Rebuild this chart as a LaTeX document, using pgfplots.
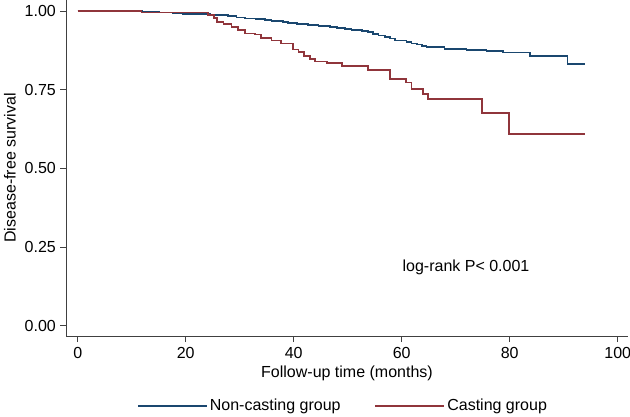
\documentclass[border=0pt]{standalone}
\usepackage{fontspec}
\setmainfont{Liberation Sans}
\usepackage{pgfplots}
\pgfplotsset{compat=1.18}
\definecolor{stnavy}{RGB}{26,71,111}
\definecolor{stmaroon}{RGB}{144,53,59}
\begin{document}
\fontsize{16bp}{19bp}\selectfont
\begin{tikzpicture}
\useasboundingbox (0,0) rectangle (630bp,417bp);
\begin{axis}[
  at={(66bp,81bp)}, anchor=south west,
  scale only axis, width=562bp, height=336bp,
  xmin=-2.17, xmax=101.9, ymin=-0.032, ymax=1.035,
  axis x line*=bottom, axis y line*=left,
  axis line style={black!75, line width=0.9bp, -},
  tick align=outside, major tick length=6bp,
  every tick/.style={black!75, line width=0.9bp},
  xtick={0,20,...,100}, ytick={0,0.25,0.5,0.75,1},
  /pgf/number format/assume math mode=true,
  yticklabel style={/pgf/number format/fixed, /pgf/number format/fixed zerofill, /pgf/number format/precision=2, anchor=east, inner sep=0pt, xshift=-4bp},
  xticklabel style={anchor=north, inner sep=0pt, yshift=-5bp},
  ylabel={Disease-free survival},
  xlabel={Follow-up time (months)},
  ylabel style={at={(axis description cs:-0.1,0.5)}, anchor=center, inner sep=0pt},
  xlabel style={at={(axis description cs:0.5,-0.1235)}, anchor=base, inner sep=0pt},
  legend style={at={(axis description cs:0.493,-0.2074)}, anchor=center, draw=none, fill=none,
    /tikz/every even column/.append style={column sep=32bp}},
  legend columns=2,
  legend cell align=left,
  legend image code/.code={\draw[#1, line width=1.1bp] (0bp,0bp) -- (62bp,0bp); \path (0bp,0bp) -- (69bp,0bp);},
  clip=false,
]
\addplot[const plot, color=stnavy, line width=1.7bp] coordinates {
(0,1.000) (12,0.998) (15,0.995) (17.6,0.993) (19.5,0.990) (24.5,0.987) (27.8,0.984)
(29.4,0.979) (31,0.976) (33,0.974) (34.7,0.971) (35.9,0.968) (38,0.966) (39,0.961)
(40.6,0.958) (42.7,0.955) (44.6,0.952) (46.7,0.950) (48,0.947) (49.5,0.942) (50.7,0.939)
(52.6,0.937) (53.8,0.933) (54.7,0.927) (55.7,0.922) (56.9,0.917) (57.8,0.913) (58.8,0.906)
(60.9,0.902) (61.8,0.897) (62.8,0.894) (63.7,0.890) (64.6,0.886) (67.9,0.880) (72,0.877)
(75.7,0.874) (78.8,0.868) (83.8,0.858) (90.7,0.831) (94,0.831)
};
\addlegendentry{Non-casting group}
\addplot[const plot, color=stmaroon, line width=1.7bp] coordinates {
(0,1.000) (11.8,0.995) (24.1,0.987) (25.2,0.978) (25.8,0.965) (27,0.958) (28.5,0.950)
(29.7,0.940) (31,0.929) (32.8,0.925) (34,0.915) (35.9,0.906) (37.7,0.897) (39.9,0.878)
(40.9,0.869) (41.9,0.858) (43,0.847) (43.9,0.840) (46.1,0.834) (48.9,0.825) (53.8,0.813)
(57.8,0.785) (60.8,0.773) (61.8,0.752) (63.9,0.737) (64.8,0.720) (74.8,0.677) (79.9,0.610)
(94,0.610)
};
\addlegendentry{Casting group}
\node[anchor=base, inner sep=0pt] at (axis cs:71.9,0.172) {log-rank P< 0.001};
\end{axis}
\end{tikzpicture}
\end{document}
